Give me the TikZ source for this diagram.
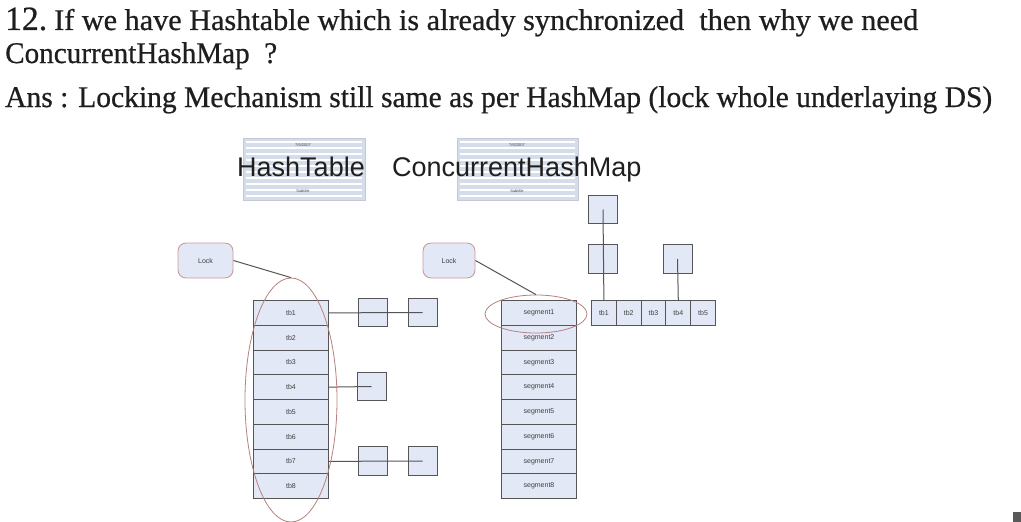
\documentclass[tikz,border=0pt]{standalone}
\usepackage{fontspec}
\usepackage{graphicx}
\setmainfont{Liberation Serif}
\newfontfamily\topf{Liberation Serif}[FakeBold=0.6]
\newfontfamily\arialf{Liberation Sans}
\usetikzlibrary{shapes.geometric}
\definecolor{cellfill}{HTML}{E2E8F5}
\definecolor{cellborder}{HTML}{555555}
\definecolor{celltext}{HTML}{404040}
\definecolor{ellcol}{HTML}{B88080}
\definecolor{lockborder}{HTML}{D09A9A}
\definecolor{thumbfill}{HTML}{D5DDEB}
\definecolor{toptext}{HTML}{1E1E1E}
\begin{document}
\begin{tikzpicture}[x=1pt,y=-1pt,
  toptxt/.style={anchor=base west, inner sep=0, text=toptext, font=\topf},
  cell/.style={draw=cellborder, fill=cellfill, line width=1pt, minimum width=75pt, minimum height=24.75pt, inner sep=0, anchor=north west, font=\arialf\fontsize{7}{8}\selectfont, text=celltext},
  rcell/.style={cell, minimum width=24.8pt, minimum height=25pt},
  chainbox/.style={draw=cellborder, fill=cellfill, line width=1pt, minimum width=29pt, minimum height=28.5pt, inner sep=0},
  link/.style={draw=cellborder, line width=1pt},
  lockbox/.style={draw=lockborder, fill=cellfill, line width=0.9pt, rounded corners=8pt, minimum height=35pt, inner sep=0, font=\arialf\fontsize{7}{8}\selectfont, text=celltext},
  ring/.style={draw=ellcol, line width=0.8pt, ellipse, inner sep=0, fill=none},
  thumb/.style={fill=thumbfill, draw=thumbfill!80!gray, line width=0.4pt},
  stripe/.style={draw=white, line width=1.6pt},
  thumbtxt/.style={font=\arialf\fontsize{4}{4}\selectfont, text=black!70, inner sep=0},
  bigtitle/.style={anchor=base west, inner sep=0, font=\arialf\fontsize{27}{27}\selectfont, text=black!88}
]
\useasboundingbox (0,0) rectangle (1021,522);
\fill[white] (0,0) rectangle (1021,522);

% top question text
\node[toptxt] (qnum) at (5,30) {\resizebox{42pt}{\height}{\fontsize{34}{34}\selectfont 12.}};
\node[toptxt] (q1) at (54,30) {\resizebox{864pt}{\height}{\fontsize{30}{30}\selectfont If we have Hashtable which is already synchronized\ \ then why we need}};
\node[toptxt] (q2) at (5,63) {\resizebox{272pt}{\height}{\fontsize{30}{30}\selectfont ConcurrentHashMap\ \ ?}};
\node[toptxt] (q3) at (5,107) {\resizebox{987pt}{\height}{\fontsize{30}{30}\selectfont Ans : Locking Mechanism still same as per HashMap (lock whole underlaying DS)}};

% thumbnails
\path[thumb] (243,138) rectangle (365,200);
\path[thumb] (457,138) rectangle (578,200);
\foreach \yy in {142,148,154,160,166,172,178,184,190,196}{
  \draw[stripe] (246,\yy) -- (362,\yy);
  \draw[stripe] (460,\yy) -- (575,\yy);
}
\node[thumbtxt] (d1) at (303,145) {7/6/2007};
\node[thumbtxt] (d2) at (517,145) {7/6/2007};
\node[thumbtxt] (s1t) at (303,191) {Subtitle};
\node[thumbtxt] (s2t) at (517,191) {Subtitle};
\node[bigtitle] (ht) at (237,176) {HashTable};
\node[bigtitle] (chm) at (392,176) {ConcurrentHashMap};

% hashtable column
\foreach \i in {1,...,8}
  \node[cell] (h\i) at (253,{300+(\i-1)*24.75}) {tb\i};
% chain boxes
\node[chainbox] (a1) at (373,312.5) {};
\node[chainbox] (a2) at (422.5,312.5) {};
\node[chainbox] (b1) at (371.5,386.5) {};
\node[chainbox] (c1) at (373,461) {};
\node[chainbox] (c2) at (422.5,461) {};
\draw[link] (h1.east) -- (a2.center);
\draw[link] (h4.east) -- (b1.center);
\draw[link] (h7.east) -- (c2.center);

% segment column
\foreach \i in {1,...,8}
  \node[cell] (s\i) at (501,{300+(\i-1)*24.75}) {segment\i};

% right row
\foreach \i in {1,...,5}
  \node[rcell] (r\i) at ({591+(\i-1)*24.8},300) {tb\i};
\node[chainbox] (u1) at (603,259) {};
\node[chainbox] (u2) at (603,209.5) {};
\node[chainbox] (v1) at (677.5,259) {};
\draw[link] (r1.north) -- (u2.center);
\draw[link] (r4.north) -- (v1.center);

% locks and rings
\node[lockbox, minimum width=55pt] (L1) at (205.5,260.5) {Lock};
\node[lockbox, minimum width=52pt] (L2) at (449,260.5) {Lock};
\node[ring, minimum width=92pt, minimum height=244pt] (E1) at (291,400) {};
\node[ring, minimum width=102pt, minimum height=38pt] (E2) at (536,314) {};
\draw[link] (L1.east) -- (E1.north);
\draw[link] (L2.east) -- (E2.north);

% corner mark
\fill[black!65] (1013,512) rectangle (1021,522);
\end{tikzpicture}
\end{document}
